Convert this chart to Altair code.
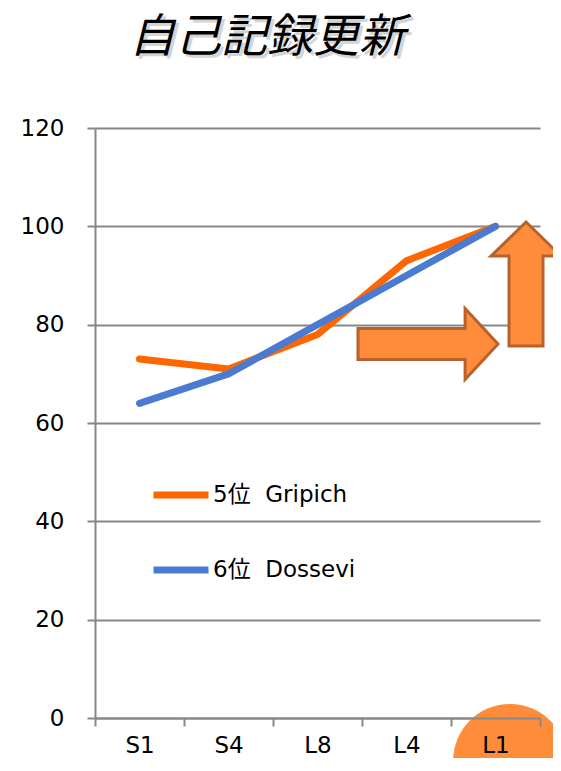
import altair as alt
import pandas as pd

# ---------------- data ----------------
categories = ["S1", "S4", "L8", "L4", "L1"]
gripich = [73, 71, 78, 93, 100]
dossevi = [64, 70, 80, 90, 100]
series_names = ["5位\u00a0\u00a0Gripich", "6位\u00a0\u00a0Dossevi"]
series_colors = ["#FF6600", "#4A7BD0"]
y_ticks = [0, 20, 40, 60, 80, 100, 120]
title_text = "自己記録更新"

rows = []
for name, vals in zip(series_names, [gripich, dossevi]):
    for i, (c, v) in enumerate(zip(categories, vals)):
        rows.append({"idx": i, "cat": c, "value": v, "series": name})
df = pd.DataFrame(rows)

# ---------------- style ----------------
W, H = 445, 590
GRAY = "#878787"
FONT = "DejaVu Sans, Noto Sans CJK JP"
ARROW_FILL = "#FF8C3A"
ARROW_STROKE = "#B8612A"

xscale = alt.Scale(domain=[-0.5, len(categories) - 0.5], nice=False, zero=False)
yscale = alt.Scale(domain=[0, 120], nice=False, zero=True)

label_arr = "[" + ",".join(f"'{c}'" for c in categories) + "]"
x_values = [i * 0.5 - 0.5 for i in range(2 * len(categories) + 1)]

x_axis = alt.Axis(
    values=x_values,
    labelExpr=f"datum.value % 1 === 0 ? {label_arr}[datum.value] : ''",
    title=None, grid=False,
    domainColor=GRAY, domainWidth=2,
    tickColor=GRAY, tickWidth=2, tickSize=8,
    tickOpacity={"condition": {"test": "datum.value % 1 === 0", "value": 0}, "value": 1},
    labelFont=FONT, labelFontSize=23, labelColor="#000000",
    labelPadding=8, labelFlush=False, labelOverlap=False, labelBound=False,
    zindex=1,
)
y_axis = alt.Axis(
    values=y_ticks, title=None,
    grid=True, gridColor=GRAY, gridWidth=2,
    domainColor=GRAY, domainWidth=2,
    tickColor=GRAY, tickWidth=2, tickSize=8,
    labelFont=FONT, labelFontSize=23, labelColor="#000000",
    labelPadding=23,
)


def X(field):
    return alt.X(field, scale=xscale, axis=x_axis)


def Y(field):
    return alt.Y(field, scale=yscale, axis=y_axis)


# ---------------- layers ----------------
circle_df = pd.DataFrame({"x": [4.163], "y": [-8.75]})
circle = alt.Chart(circle_df).mark_point(
    shape="circle", filled=True, size=12996, color=ARROW_FILL,
    opacity=1, strokeWidth=0, clip=False,
).encode(x=X("x:Q"), y=Y("y:Q"))

lines = alt.Chart(df).mark_line(
    strokeWidth=7, strokeCap="round", strokeJoin="round"
).encode(
    x=X("idx:Q"),
    y=Y("value:Q"),
    color=alt.Color(
        "series:N",
        scale=alt.Scale(domain=series_names, range=series_colors),
        legend=alt.Legend(
            orient="none", legendX=55, legendY=336, title=None,
            symbolType="stroke", symbolStrokeWidth=7, symbolSize=3025,
            labelFont=FONT, labelFontSize=23, labelColor="#000000",
            rowPadding=30, labelOffset=1, padding=0,
        ),
    ),
    detail="series:N",
)

right_arrow_path = "M-1,-0.22 L0.53,-0.22 L0.53,-0.507 L1,0 L0.53,0.507 L0.53,0.22 L-1,0.22 Z"
up_arrow_path = "M0,-1 L0.565,-0.45 L0.274,-0.45 L0.274,1 L-0.274,1 L-0.274,-0.45 L-0.565,-0.45 Z"

right_arrow = alt.Chart(pd.DataFrame({"x": [3.2416], "y": [76.07]})).mark_point(
    shape=right_arrow_path, filled=True, size=19600, fill=ARROW_FILL,
    stroke=ARROW_STROKE, strokeWidth=3, opacity=1, clip=False,
).encode(x=X("x:Q"), y=Y("y:Q"))

up_arrow = alt.Chart(pd.DataFrame({"x": [4.343], "y": [88.27]})).mark_point(
    shape=up_arrow_path, filled=True, size=15376, fill=ARROW_FILL,
    stroke=ARROW_STROKE, strokeWidth=3, opacity=1, clip=False,
).encode(x=X("x:Q"), y=Y("y:Q"))

title_df = pd.DataFrame({"t": [title_text]})
title_shadow = alt.Chart(title_df).mark_text(
    font="Noto Sans CJK JP", fontSize=46, fontStyle="italic",
    color="#AAAAAA", opacity=0.5, align="center", baseline="middle",
).encode(text="t:N", x=alt.value(175), y=alt.value(-87))
title = alt.Chart(title_df).mark_text(
    font="Noto Sans CJK JP", fontSize=46, fontStyle="italic",
    color="#000000", align="center", baseline="middle",
).encode(text="t:N", x=alt.value(172), y=alt.value(-90))

chart = alt.layer(
    circle, lines, right_arrow, up_arrow, title_shadow, title
).properties(
    width=W, height=H,
    autosize=alt.AutoSizeParams(type="none"),
    padding={"left": 87, "top": 120, "right": 13, "bottom": 40},
    background="white",
).configure_view(stroke=None)

chart.save("out.html", embed_options={"renderer": "svg", "actions": False})
